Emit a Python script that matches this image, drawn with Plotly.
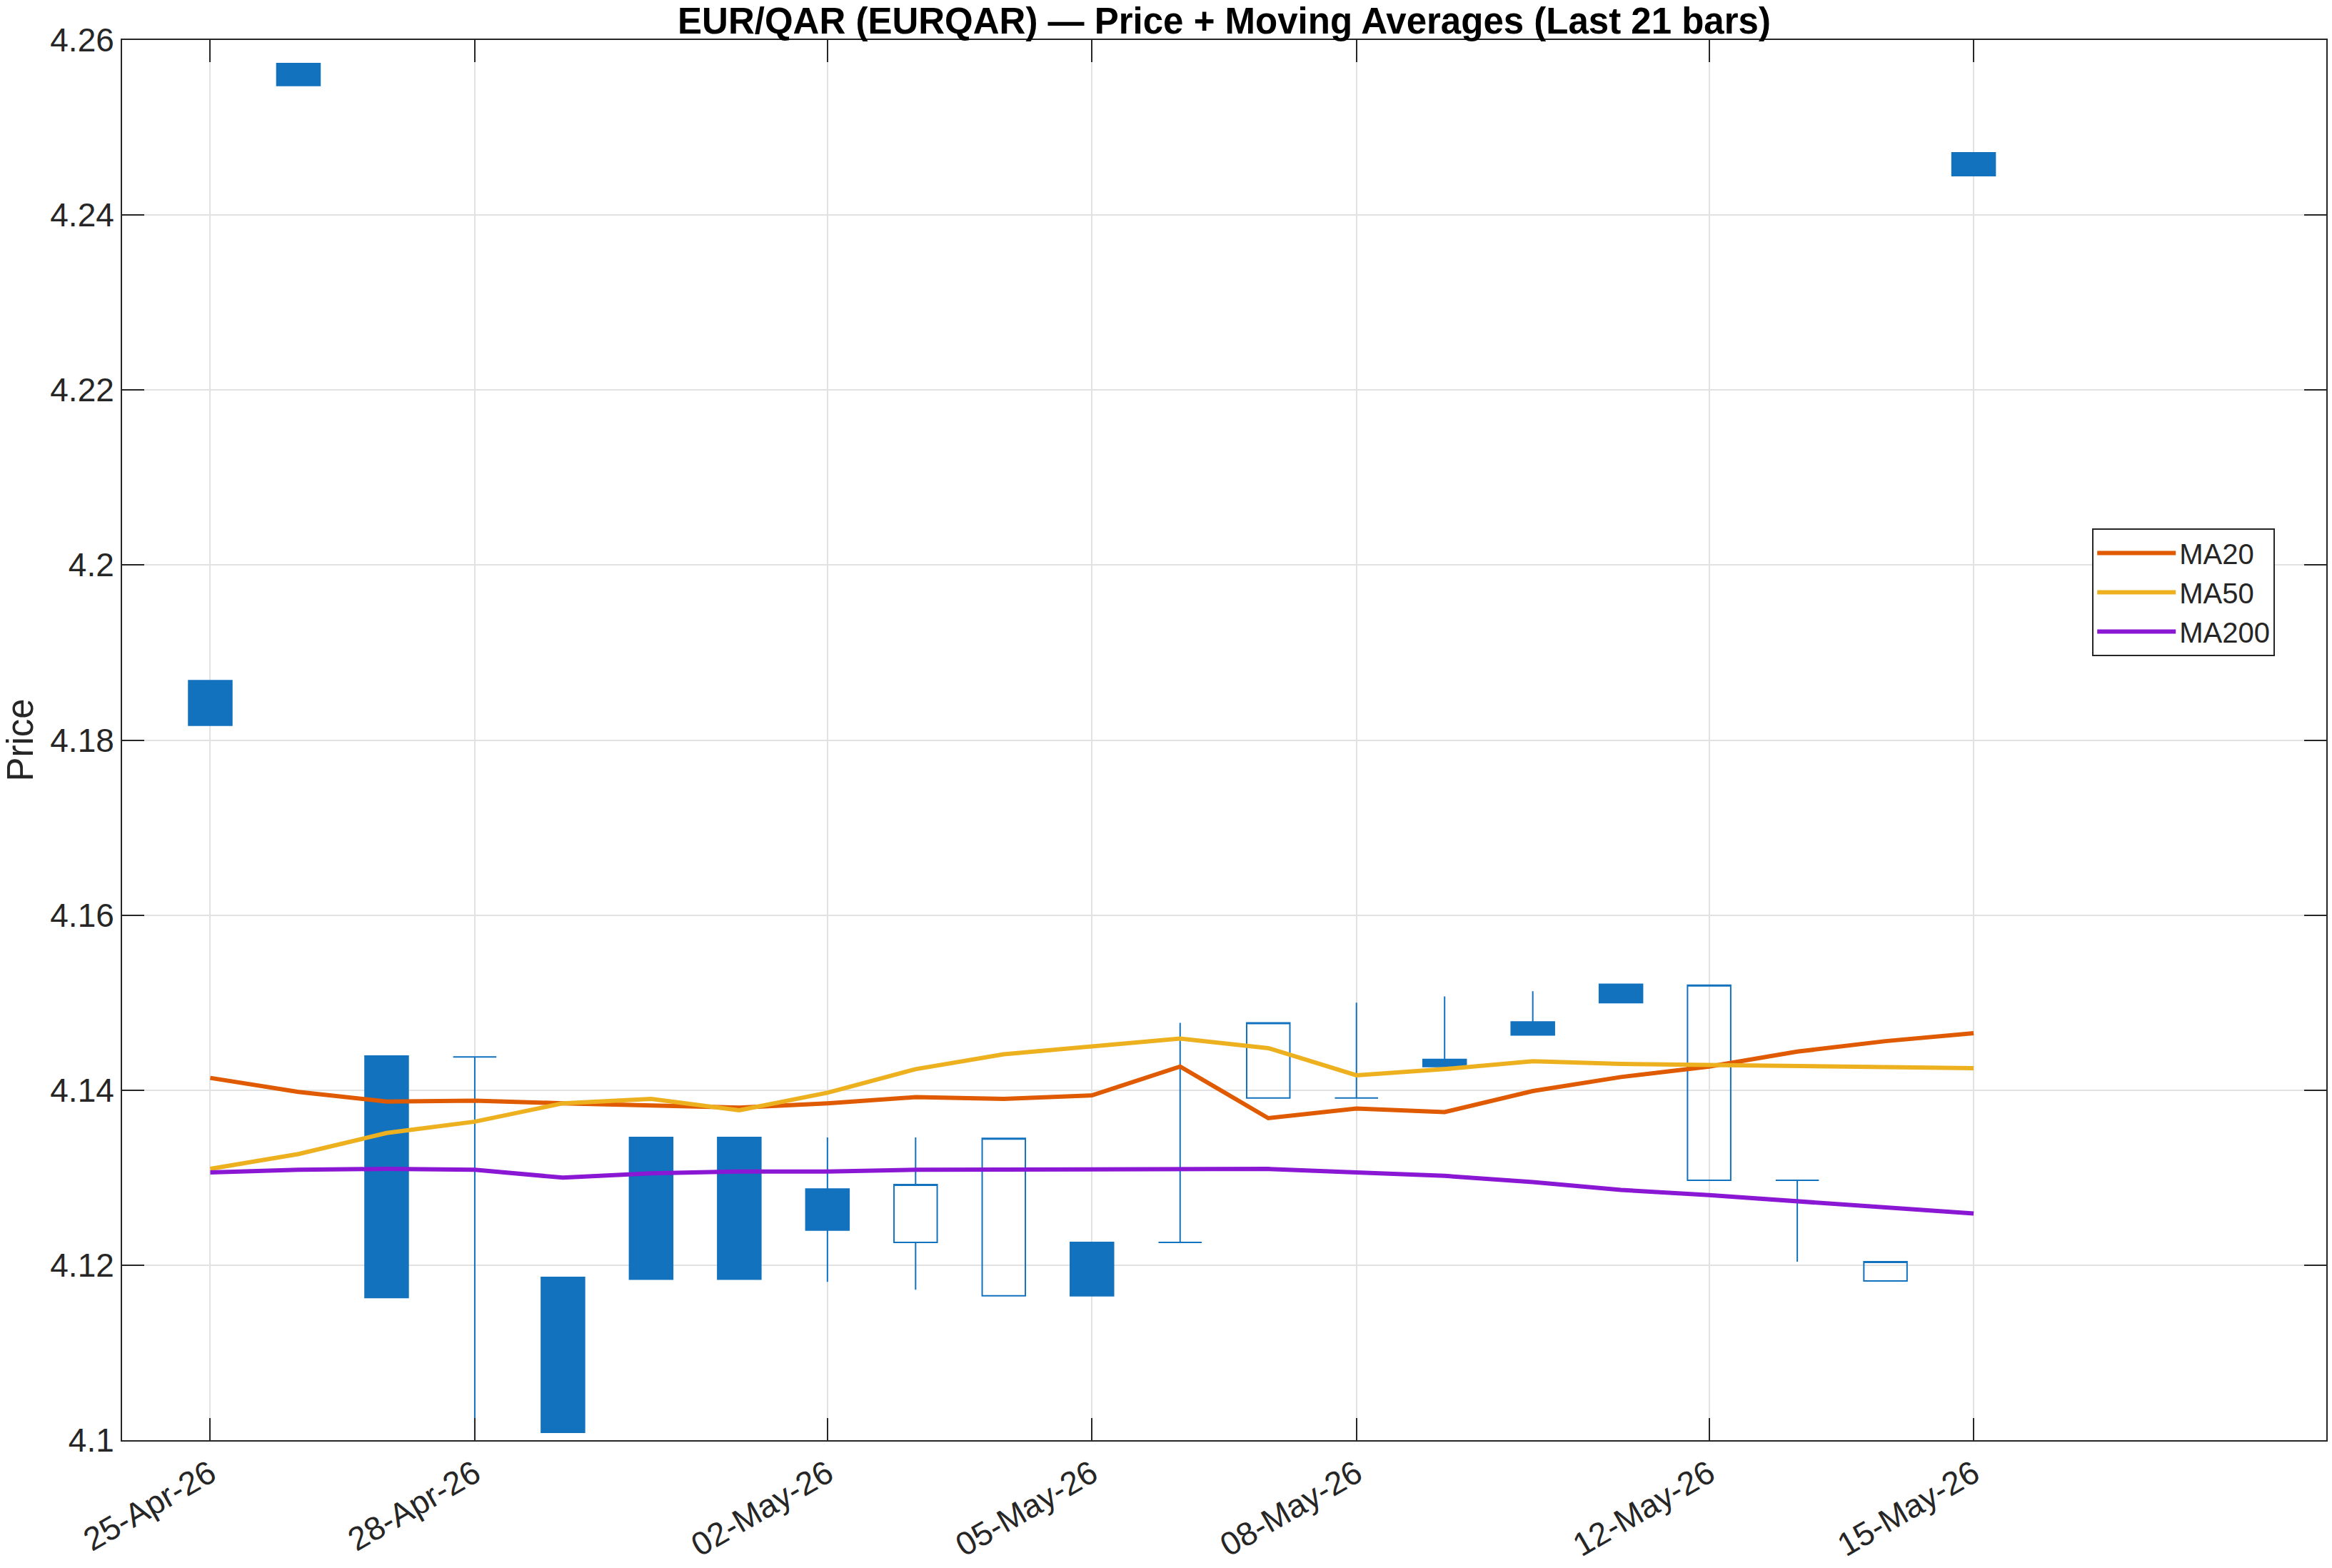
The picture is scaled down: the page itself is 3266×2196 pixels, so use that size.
import pandas as pd
import plotly.graph_objects as go

dates = pd.date_range("2026-04-25", "2026-05-15", freq="D")

open_ = [4.1868, 4.2573, 4.1439, 4.1438, 4.1186, 4.1346, 4.1346, 4.1287, 4.1226, 4.1165, 4.1226,
         4.1226, 4.1391, 4.1391, 4.1435, 4.1478, 4.1521, 4.1297, 4.1297, 4.1182, 4.2471]
high = [4.1868, 4.2573, 4.1439, 4.1438, 4.1186, 4.1346, 4.1346, 4.1346, 4.1346, 4.1345, 4.1226,
        4.1477, 4.1477, 4.1500, 4.1507, 4.1513, 4.1521, 4.1520, 4.1297, 4.1204, 4.2471]
low = [4.1817, 4.2548, 4.1163, 4.0950, 4.1009, 4.1184, 4.1184, 4.1181, 4.1172, 4.1165, 4.1165,
       4.1226, 4.1391, 4.1391, 4.1427, 4.1463, 4.1500, 4.1297, 4.1204, 4.1182, 4.2445]
close = [4.1817, 4.2548, 4.1163, 4.1438, 4.1009, 4.1184, 4.1184, 4.1240, 4.1292, 4.1345, 4.1165,
         4.1226, 4.1477, 4.1391, 4.1427, 4.1463, 4.1500, 4.1520, 4.1297, 4.1204, 4.2445]

ma20 = [4.1414, 4.1398, 4.1387, 4.1388, 4.1385, 4.1382, 4.1380, 4.1385, 4.1392, 4.1390, 4.1394,
        4.1427, 4.1368, 4.1379, 4.1375, 4.1399, 4.1415, 4.1427, 4.1444, 4.1456, 4.1465]
ma50 = [4.1310, 4.1327, 4.1351, 4.1364, 4.1385, 4.1390, 4.1377, 4.1397, 4.1424, 4.1441, 4.1450,
        4.1459, 4.1448, 4.1417, 4.1424, 4.1433, 4.1430, 4.1429, 4.1428, 4.1427, 4.1425]
ma200 = [4.1306, 4.1309, 4.1310, 4.1309, 4.1300, 4.1305, 4.1307, 4.1307, 4.1309, 4.1309, 4.1309,
         4.1309, 4.1310, 4.1306, 4.1302, 4.1295, 4.1286, 4.1280, 4.1273, 4.1265, 4.1259]

x_tick_dates = ["2026-04-25", "2026-04-28", "2026-05-02", "2026-05-05",
                "2026-05-08", "2026-05-12", "2026-05-15"]
x_tick_labels = ["25-Apr-26", "28-Apr-26", "02-May-26", "05-May-26",
                 "08-May-26", "12-May-26", "15-May-26"]
y_tick_vals = [4.10, 4.12, 4.14, 4.16, 4.18, 4.20, 4.22, 4.24, 4.26]
y_tick_labels = ["4.1", "4.12", "4.14", "4.16", "4.18", "4.2", "4.22", "4.24", "4.26"]

BLUE = "#1372BE"
FONT = "Liberation Sans, Arial, Helvetica, sans-serif"
AX = "#262626"

fig = go.Figure()
fig.add_trace(go.Candlestick(
    x=dates, open=open_, high=high, low=low, close=close,
    increasing=dict(line=dict(color=BLUE, width=2), fillcolor="rgba(0,0,0,0)"),
    decreasing=dict(line=dict(color=BLUE, width=2), fillcolor=BLUE),
    whiskerwidth=0, showlegend=False, name="EURQAR",
))
fig.add_trace(go.Scatter(x=dates, y=ma20, mode="lines", name="MA20",
                         line=dict(color="#DF5A00", width=6)))
fig.add_trace(go.Scatter(x=dates, y=ma50, mode="lines", name="MA50",
                         line=dict(color="#EDB120", width=6)))
fig.add_trace(go.Scatter(x=dates, y=ma200, mode="lines", name="MA200",
                         line=dict(color="#8A17D3", width=6)))

axis_common = dict(
    showline=True, linecolor=AX, linewidth=2, mirror="ticks",
    ticks="inside", ticklen=31, tickwidth=2, tickcolor=AX,
    showgrid=True, gridcolor="#E2E2E2", gridwidth=2, zeroline=False,
    tickfont=dict(family=FONT, size=46, color=AX),
)

fig.update_layout(
    width=3266, height=2196, autosize=False,
    margin=dict(l=171, r=6, t=56, b=165),
    paper_bgcolor="white", plot_bgcolor="white",
    boxgap=0.51, boxgroupgap=0,
    title=dict(text="<b>EUR/QAR (EURQAR) — Price + Moving Averages (Last 21 bars)</b>",
               x=0.5, xref="paper", xanchor="center",
               y=1 - 29 / 2196, yref="container", yanchor="middle",
               font=dict(family=FONT, size=51, color="#000000")),
    xaxis=dict(type="date", range=["2026-04-24", "2026-05-19"],
               tickvals=x_tick_dates, ticktext=x_tick_labels, tickangle=-30,
               rangeslider=dict(visible=False), **axis_common),
    yaxis=dict(range=[4.10, 4.26], tickvals=y_tick_vals, ticktext=y_tick_labels,
               title=dict(text="Price", font=dict(family=FONT, size=51, color=AX), standoff=26),
               **axis_common),
    legend=dict(x=(2932 - 171) / 3089, y=1 - (745 - 56) / 1975, xanchor="left", yanchor="top",
                bgcolor="white", bordercolor=AX, borderwidth=2,
                font=dict(family=FONT, size=40, color=AX), itemwidth=110,
                tracegroupgap=0),
    showlegend=True,
)

fig.write_html("out.html")
